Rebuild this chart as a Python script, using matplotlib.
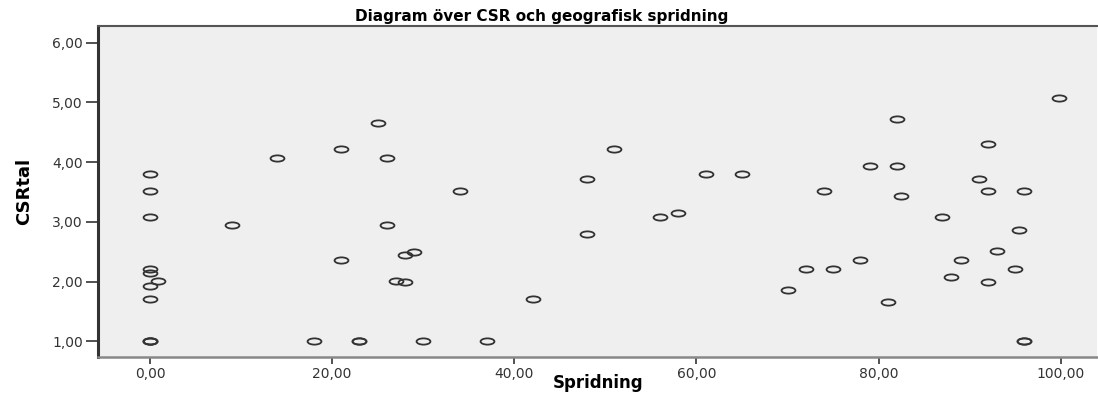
#scatter of CSR score against geographic spread

import matplotlib
matplotlib.use("Agg")
import matplotlib.pyplot as plt
from matplotlib.path import Path
from matplotlib.transforms import Affine2D
from matplotlib.ticker import FuncFormatter

# Spridning (x) and CSRtal (y) for each company
spridning = [0, 0, 0, 0, 0, 0, 0, 0, 0, 0, 0.9,
             9, 14, 18, 21, 21, 23, 23, 25, 26, 26, 27, 28,
             28, 29, 30, 34, 37, 42, 48, 48, 51, 56, 58, 61, 65,
             70, 72, 74, 75, 78, 79, 81, 82, 82, 82.5, 87, 88, 89,
             91, 92, 92, 92, 93, 95, 95.4, 96, 96, 96, 99.8]
csrtal = [3.80, 3.51, 3.08, 2.21, 2.15, 1.93, 1.71, 1.00, 1.00, 1.00, 2.01,
          2.94, 4.07, 1.00, 4.22, 2.36, 1.00, 1.00, 4.65, 4.07, 2.94, 2.01, 2.00,
          2.44, 2.50, 1.00, 3.51, 1.00, 1.71, 3.72, 2.80, 4.22, 3.08, 3.14, 3.80, 3.80,
          1.86, 2.21, 3.51, 2.21, 2.36, 3.94, 1.65, 4.72, 3.94, 3.44, 3.08, 2.07, 2.36,
          3.72, 4.30, 3.51, 2.00, 2.51, 2.21, 2.86, 3.51, 1.00, 1.00, 5.08]

x_ticks = [0, 20, 40, 60, 80, 100]
y_ticks = [1, 2, 3, 4, 5, 6]

fig = plt.figure(figsize=(10.98, 3.94), dpi=100)
ax = fig.add_axes([0.0893, 0.094, 0.91, 0.840])
ax.set_facecolor("#efefef")

#flat open ring used as the marker
ring = Path.unit_circle().transformed(Affine2D().scale(1.0, 0.45))
ax.plot(spridning, csrtal, linestyle="none", marker=ring, markersize=10,
        markerfacecolor="none", markeredgecolor="#333333", markeredgewidth=1.3)

ax.set_xlim(-5.7, 104.0)
ax.set_ylim(0.737, 6.28)
ax.set_xticks(x_ticks)
ax.set_yticks(y_ticks)

comma = FuncFormatter(lambda v, p: ("%.2f" % v).replace(".", ","))
ax.xaxis.set_major_formatter(comma)
ax.yaxis.set_major_formatter(comma)

ax.tick_params(axis="y", direction="out", length=9, width=1.2, color="#333333",
               labelsize=10, labelcolor="#333333", pad=2)
ax.tick_params(axis="x", direction="out", length=5, width=1.2, color="#333333",
               labelsize=10, labelcolor="#333333", pad=2)

#frame: heavy left edge, lighter top and bottom, nothing on the right
ax.spines["left"].set_color("#333333")
ax.spines["left"].set_linewidth(2.2)
ax.spines["top"].set_color("#555555")
ax.spines["top"].set_linewidth(1.5)
ax.spines["bottom"].set_color("#888888")
ax.spines["bottom"].set_linewidth(1.8)
ax.spines["right"].set_visible(False)

fig.text(0.493, 0.957, "Diagram över CSR och geografisk spridning",
         ha="center", va="center", fontsize=11, fontweight="bold",
         family="DejaVu Sans")
#axis titles
fig.text(0.545, 0.004, "Spridning", ha="center", va="bottom",
         fontsize=12, fontweight="bold", family="DejaVu Sans")
fig.text(0.022, 0.514, "CSRtal", rotation=90, ha="center", va="center",
         fontsize=13, fontweight="bold", family=["Liberation Sans Narrow", "DejaVu Sans"])

fig.savefig("out.png", dpi=100)
